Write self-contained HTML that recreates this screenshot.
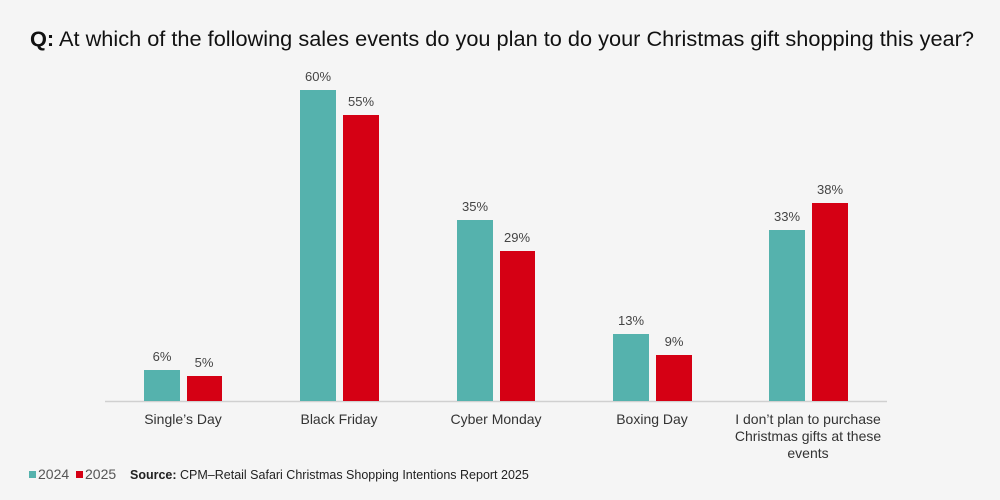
<!DOCTYPE html>
<html><head><meta charset="utf-8"><style>
html,body{margin:0;padding:0;background:#f5f5f5;}
svg{display:block;font-family:"Liberation Sans",sans-serif;}
</style></head><body>
<svg width="1000" height="500" viewBox="0 0 1000 500">
<rect width="1000" height="500" fill="#f5f5f5"/>
<text x="30" y="46" font-size="21.5" fill="#111" textLength="944" lengthAdjust="spacingAndGlyphs"><tspan font-weight="bold">Q:</tspan> At which of the following sales events do you plan to do your Christmas gift shopping this year?</text>
<line x1="105" y1="401.5" x2="887" y2="401.5" stroke="#d0d0d0" stroke-width="1.5"/>
<g fill="#55b2ad">
<rect x="144" y="370" width="36" height="31"/>
<rect x="300" y="90" width="36" height="311"/>
<rect x="457" y="220" width="36" height="181"/>
<rect x="613" y="334" width="36" height="67"/>
<rect x="769" y="230" width="36" height="171"/>
</g>
<g fill="#d50014">
<rect x="187" y="376" width="35" height="25"/>
<rect x="343" y="115" width="36" height="286"/>
<rect x="500" y="251" width="35" height="150"/>
<rect x="656" y="355" width="36" height="46"/>
<rect x="812" y="203" width="36" height="198"/>
</g>
<g font-size="13" fill="#444" text-anchor="middle">
<text x="162" y="361">6%</text><text x="204" y="367">5%</text>
<text x="318" y="81">60%</text><text x="361" y="106">55%</text>
<text x="475" y="211">35%</text><text x="517" y="242">29%</text>
<text x="631" y="325">13%</text><text x="674" y="346">9%</text>
<text x="787" y="221">33%</text><text x="830" y="194">38%</text>
</g>
<g font-size="14" fill="#333" text-anchor="middle">
<text x="183" y="424">Single’s Day</text>
<text x="339" y="424">Black Friday</text>
<text x="496" y="424">Cyber Monday</text>
<text x="652" y="424">Boxing Day</text>
<text x="808" y="424">I don’t plan to purchase</text>
<text x="808" y="441">Christmas gifts at these</text>
<text x="808" y="458">events</text>
</g>
<rect x="29" y="471" width="7" height="7" fill="#55b2ad"/>
<text x="38" y="479" font-size="14" fill="#555">2024</text>
<rect x="76" y="471" width="7" height="7" fill="#d50014"/>
<text x="85" y="479" font-size="14" fill="#555">2025</text>
<text x="130" y="479" font-size="12.5" fill="#222"><tspan font-weight="bold">Source:</tspan> CPM–Retail Safari Christmas Shopping Intentions Report 2025</text>
</svg>
</body></html>
